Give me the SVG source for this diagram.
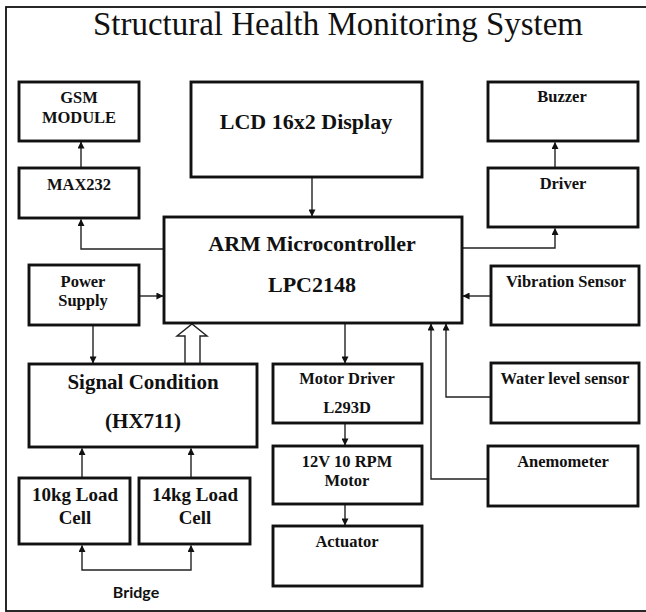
<svg xmlns="http://www.w3.org/2000/svg" width="646" height="612" viewBox="0 0 646 612">
  <style>
    .box { fill: #ffffff; stroke: #111111; stroke-width: 2.9; }
    .wire { fill: none; stroke: #222222; stroke-width: 1.4; }
    .lbl { font-family: "Liberation Serif", "Times New Roman", serif; font-weight: bold; fill: #111111; text-anchor: middle; }
    .s16 { font-size: 16.5px; }
    .s18 { font-size: 19px; }
    .s21 { font-size: 21px; }
    .s22 { font-size: 22px; }
    .title { font-family: "Liberation Serif", "Times New Roman", serif; font-size: 34px; fill: #111111; text-anchor: middle; }
    .sans { font-family: Lato, "Liberation Sans", Arial, sans-serif; font-weight: bold; font-size: 16px; fill: #111111; text-anchor: middle; }
  </style>
  <defs>
    <marker id="arrow" viewBox="0 0 8 8" refX="7.5" refY="4" markerWidth="7" markerHeight="7" markerUnits="userSpaceOnUse" orient="auto">
      <path d="M0,0 L8,4 L0,8 Z" fill="#111111"/>
    </marker>
  </defs>

  <rect width="646" height="612" fill="#ffffff"/>
  <!-- outer frame (right side runs past the canvas) -->
  <rect x="6" y="7" width="660" height="604" fill="none" stroke="#111111" stroke-width="1.8"/>

  <text class="title" x="338" y="35" textLength="490" lengthAdjust="spacingAndGlyphs">Structural Health Monitoring System</text>

  <!-- connectors -->
  <g id="connectors">
    <path class="wire" d="M81,168 V142" marker-end="url(#arrow)"/>
    <path class="wire" d="M164,249 H81 V219.5" marker-end="url(#arrow)"/>
    <path class="wire" d="M312,177 V216" marker-end="url(#arrow)"/>
    <path class="wire" d="M139,296 H163" marker-end="url(#arrow)"/>
    <path class="wire" d="M462,248 H555 V228.5" marker-end="url(#arrow)"/>
    <path class="wire" d="M555,168 V142.5" marker-end="url(#arrow)"/>
    <path class="wire" d="M491,296 H463" marker-end="url(#arrow)"/>
    <path class="wire" d="M345,323 V363" marker-end="url(#arrow)"/>
    <path class="wire" d="M491,397 H446 V324" marker-end="url(#arrow)"/>
    <path class="wire" d="M488,479 H431 V324" marker-end="url(#arrow)"/>
    <path class="wire" d="M345,423 V445" marker-end="url(#arrow)"/>
    <path class="wire" d="M345,504 V525" marker-end="url(#arrow)"/>
    <path class="wire" d="M93,325 V363" marker-end="url(#arrow)"/>
    <path class="wire" d="M82,478 V448.5" marker-end="url(#arrow)"/>
    <path class="wire" d="M191,478 V448.5" marker-end="url(#arrow)"/>
    <path class="wire" d="M136,570 H82 V545.5" marker-end="url(#arrow)"/>
    <path class="wire" d="M136,570 H191 V545.5" marker-end="url(#arrow)"/>
    <!-- hollow data-bus arrow from the signal conditioner -->
    <polygon points="185,364 185,336 177,336 192,324 207,336 200,336 200,364" fill="#ffffff" stroke="#222222" stroke-width="1.4"/>
  </g>

  <g id="gsm">
    <rect class="box" x="19" y="82" width="120" height="59"/>
    <text class="lbl s16" x="79" y="103">GSM</text>
    <text class="lbl s16" x="79" y="123">MODULE</text>
  </g>
  <g id="max232">
    <rect class="box" x="19" y="168" width="120" height="50"/>
    <text class="lbl s16" x="79" y="190">MAX232</text>
  </g>
  <g id="lcd">
    <rect class="box" x="191" y="82" width="231" height="95"/>
    <text class="lbl s22" x="306" y="129">LCD 16x2 Display</text>
  </g>
  <g id="buzzer">
    <rect class="box" x="488" y="82" width="150" height="59"/>
    <text class="lbl s16" x="562" y="102">Buzzer</text>
  </g>
  <g id="driver">
    <rect class="box" x="488" y="168" width="150" height="59"/>
    <text class="lbl s16" x="563" y="189">Driver</text>
  </g>
  <g id="arm">
    <rect class="box" x="164" y="217" width="298" height="106"/>
    <text class="lbl s22" x="312" y="251">ARM Microcontroller</text>
    <text class="lbl s22" x="312" y="292">LPC2148</text>
  </g>
  <g id="power">
    <rect class="box" x="29" y="265" width="110" height="60"/>
    <text class="lbl s16" x="83" y="287">Power</text>
    <text class="lbl s16" x="83" y="306">Supply</text>
  </g>
  <g id="vibration">
    <rect class="box" x="491" y="266" width="148" height="59"/>
    <text class="lbl s16" x="566" y="287">Vibration Sensor</text>
  </g>
  <g id="signal">
    <rect class="box" x="29" y="364" width="228" height="83"/>
    <text class="lbl s21" x="143" y="389">Signal Condition</text>
    <text class="lbl s21" x="143" y="428">(HX711)</text>
  </g>
  <g id="motor-driver">
    <rect class="box" x="273" y="364" width="149" height="59"/>
    <text class="lbl s16" x="347" y="384">Motor Driver</text>
    <text class="lbl s16" x="347" y="413">L293D</text>
  </g>
  <g id="motor">
    <rect class="box" x="273" y="446" width="149" height="58"/>
    <text class="lbl s16" x="347" y="467">12V 10 RPM</text>
    <text class="lbl s16" x="347" y="486">Motor</text>
  </g>
  <g id="actuator">
    <rect class="box" x="273" y="526" width="149" height="60"/>
    <text class="lbl s16" x="347" y="547">Actuator</text>
  </g>
  <g id="water">
    <rect class="box" x="491" y="363" width="148" height="60"/>
    <text class="lbl s16" x="565" y="384">Water level sensor</text>
  </g>
  <g id="anemometer">
    <rect class="box" x="488" y="446" width="150" height="60"/>
    <text class="lbl s16" x="563" y="467">Anemometer</text>
  </g>
  <g id="load10">
    <rect class="box" x="19" y="478" width="111" height="66"/>
    <text class="lbl s18" x="75" y="501">10kg Load</text>
    <text class="lbl s18" x="75" y="524">Cell</text>
  </g>
  <g id="load14">
    <rect class="box" x="139" y="478" width="111" height="66"/>
    <text class="lbl s18" x="195" y="501">14kg Load</text>
    <text class="lbl s18" x="195" y="524">Cell</text>
  </g>
  <g id="bridge">
    <text class="sans" x="136" y="598">Bridge</text>
  </g>
</svg>
